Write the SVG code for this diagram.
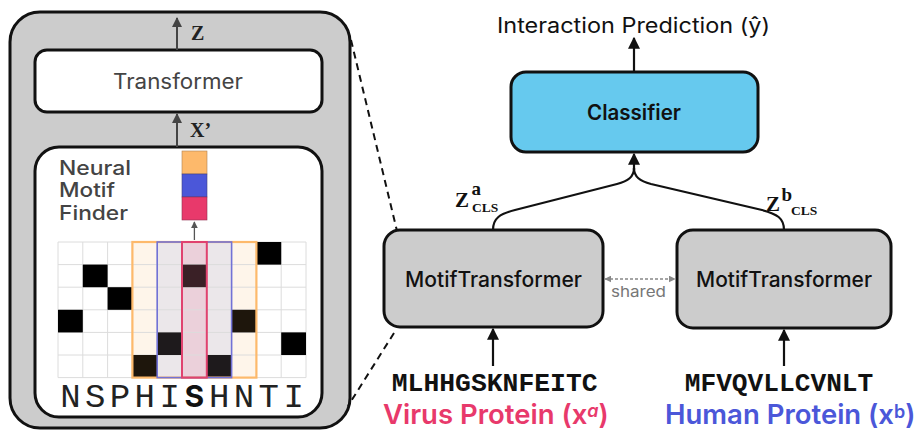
<svg xmlns="http://www.w3.org/2000/svg" width="915" height="430" viewBox="0 0 915 430">
  <style>
    .sans { font-family: Inter, "Liberation Sans", Arial, sans-serif; }
    .serif { font-family: "Liberation Serif", "Times New Roman", serif; font-weight: bold; }
    .mono { font-family: "Liberation Mono", "Courier New", monospace; }
    .box { stroke: #111; stroke-width: 3; }
    .grid line { stroke: #dcdcdc; stroke-width: 1; }
    .dark { stroke: #444; stroke-width: 2; fill: none; }
    .blk { stroke: #111; stroke-width: 2.2; fill: none; }
  </style>
  <defs>
    <marker id="ahGray" viewBox="0 0 10 10" refX="9" refY="5" markerWidth="10" markerHeight="10" markerUnits="userSpaceOnUse" orient="auto">
      <path d="M0,0 L10,5 L0,10 z" fill="#444"/>
    </marker>
    <marker id="ahSmall" viewBox="0 0 10 10" refX="9" refY="5" markerWidth="7" markerHeight="7" markerUnits="userSpaceOnUse" orient="auto">
      <path d="M0,0 L10,5 L0,10 z" fill="#555"/>
    </marker>
    <marker id="ahBlack" viewBox="0 0 10 10" refX="9" refY="5" markerWidth="12" markerHeight="12" markerUnits="userSpaceOnUse" orient="auto">
      <path d="M0,0 L10,5 L0,10 z" fill="#111"/>
    </marker>
    <marker id="ahShared" viewBox="0 0 10 10" refX="9" refY="5" markerWidth="7" markerHeight="7" markerUnits="userSpaceOnUse" orient="auto-start-reverse">
      <path d="M0,0 L10,5 L0,10 z" fill="#888"/>
    </marker>
  </defs>

  <!-- expanded view of one MotifTransformer -->
  <g id="motif-detail">
    <rect x="10" y="12" width="340" height="416" rx="30" fill="#cccccc" class="box" stroke-width="3.5"/>
    <g id="transformer">
      <rect x="35" y="50" width="287" height="62" rx="12" fill="#fff" class="box"/>
      <text x="113" y="89" class="sans" font-size="21" fill="#444" textLength="130" lengthAdjust="spacingAndGlyphs">Transformer</text>
    </g>
    <g id="motif-finder">
      <rect x="35" y="147" width="287" height="270" rx="24" fill="#fff" class="box"/>
      <text class="sans" font-size="20" font-weight="500" fill="#444">
        <tspan x="59" y="175" textLength="72" lengthAdjust="spacingAndGlyphs">Neural</tspan>
        <tspan x="59" y="197" textLength="56" lengthAdjust="spacingAndGlyphs">Motif</tspan>
        <tspan x="59" y="220" textLength="69" lengthAdjust="spacingAndGlyphs">Finder</tspan>
      </text>
      <rect x="182" y="151" width="25" height="23" fill="#FDB96B" stroke="#b08050" stroke-width="0.6"/>
      <rect x="182" y="174" width="25" height="23" fill="#4B57D9" stroke="#404080" stroke-width="0.6"/>
      <rect x="182" y="197" width="25" height="23" fill="#E8396B" stroke="#903050" stroke-width="0.6"/>

      <!-- convolution windows -->
      <rect x="132.4" y="242" width="124" height="135.6" fill="#FEF5EA"/>
      <rect x="157.2" y="242" width="74.4" height="135.6" fill="#EBE7EA"/>
      <rect x="182" y="242" width="24.8" height="135.6" fill="#EBD0DA"/>

      <!-- one-hot grid -->
      <g class="grid">
        <line x1="58" y1="242" x2="306" y2="242"/>
        <line x1="58" y1="264.6" x2="306" y2="264.6"/>
        <line x1="58" y1="287.2" x2="306" y2="287.2"/>
        <line x1="58" y1="309.8" x2="306" y2="309.8"/>
        <line x1="58" y1="332.4" x2="306" y2="332.4"/>
        <line x1="58" y1="355" x2="306" y2="355"/>
        <line x1="58" y1="377.6" x2="306" y2="377.6"/>
        <line x1="58" y1="242" x2="58" y2="377.6"/>
        <line x1="82.8" y1="242" x2="82.8" y2="377.6"/>
        <line x1="107.6" y1="242" x2="107.6" y2="377.6"/>
        <line x1="132.4" y1="242" x2="132.4" y2="377.6"/>
        <line x1="157.2" y1="242" x2="157.2" y2="377.6"/>
        <line x1="182" y1="242" x2="182" y2="377.6"/>
        <line x1="206.8" y1="242" x2="206.8" y2="377.6"/>
        <line x1="231.6" y1="242" x2="231.6" y2="377.6"/>
        <line x1="256.4" y1="242" x2="256.4" y2="377.6"/>
        <line x1="281.2" y1="242" x2="281.2" y2="377.6"/>
        <line x1="306" y1="242" x2="306" y2="377.6"/>
      </g>
      <g id="cells">
        <rect x="256.4" y="242" width="24.8" height="22.6" fill="#000"/>
        <rect x="82.8" y="264.6" width="24.8" height="22.6" fill="#000"/>
        <rect x="182" y="264.6" width="24.8" height="22.6" fill="#3a2026"/>
        <rect x="107.6" y="287.2" width="24.8" height="22.6" fill="#000"/>
        <rect x="58" y="309.8" width="24.8" height="22.6" fill="#000"/>
        <rect x="231.6" y="309.8" width="24.8" height="22.6" fill="#1e160c"/>
        <rect x="157.2" y="332.4" width="24.8" height="22.6" fill="#1e1a1c"/>
        <rect x="281.2" y="332.4" width="24.8" height="22.6" fill="#000"/>
        <rect x="132.4" y="355" width="24.8" height="22.6" fill="#1e160c"/>
        <rect x="206.8" y="355" width="24.8" height="22.6" fill="#1e1a1c"/>
      </g>
      <rect x="132.4" y="242" width="124" height="135.6" fill="none" stroke="#FDB96B" stroke-width="2.2"/>
      <rect x="157.2" y="242" width="74.4" height="135.6" fill="none" stroke="#7272D6" stroke-width="1.6"/>
      <rect x="182" y="242" width="24.8" height="135.6" fill="none" stroke="#E0426F" stroke-width="2"/>

      <text class="mono" font-size="34" fill="#222" text-anchor="middle">
        <tspan x="70.4" y="407">N</tspan><tspan x="95.2" y="407">S</tspan><tspan x="120" y="407">P</tspan><tspan x="144.8" y="407">H</tspan><tspan x="169.6" y="407">I</tspan><tspan x="194.4" y="407" class="sans" font-weight="bold" font-size="30" fill="#111">S</tspan><tspan x="219.2" y="407">H</tspan><tspan x="244" y="407">N</tspan><tspan x="268.8" y="407">T</tspan><tspan x="293.6" y="407">I</tspan>
      </text>
    </g>
    <line x1="194.4" y1="240" x2="194.4" y2="222" stroke="#555" stroke-width="1.3" marker-end="url(#ahSmall)"/>
    <line x1="177" y1="147" x2="177" y2="114" class="dark" marker-end="url(#ahGray)"/>
    <line x1="177" y1="50" x2="177" y2="18" class="dark" marker-end="url(#ahGray)"/>
    <text x="191" y="40" class="serif" font-size="20" fill="#222">Z</text>
    <text x="190" y="137" class="serif" font-size="20" fill="#222">X’</text>
  </g>

  <!-- zoom guides -->
  <g id="zoom-guides" stroke="#111" stroke-width="2" stroke-dasharray="7,5" fill="none">
    <line x1="351" y1="40" x2="397" y2="231"/>
    <line x1="394" y1="333" x2="348" y2="406"/>
  </g>

  <g id="classifier">
    <rect x="511" y="72" width="247" height="80" rx="15" fill="#66C9EE" class="box"/>
    <text x="587" y="120" class="sans" font-size="21" font-weight="600" fill="#111" textLength="94" lengthAdjust="spacingAndGlyphs">Classifier</text>
  </g>

  <g id="motif-transformer-a">
    <rect x="384" y="230" width="219" height="97" rx="16" fill="#cccccc" class="box"/>
    <text x="405" y="287" class="sans" font-size="21" font-weight="500" fill="#111" textLength="177" lengthAdjust="spacingAndGlyphs">MotifTransformer</text>
  </g>

  <g id="motif-transformer-b">
    <rect x="677" y="230" width="214" height="98" rx="16" fill="#cccccc" class="box"/>
    <text x="696" y="287" class="sans" font-size="21" font-weight="500" fill="#111" textLength="176" lengthAdjust="spacingAndGlyphs">MotifTransformer</text>
  </g>

  <g id="connectors">
    <line x1="634" y1="72" x2="634" y2="38" class="blk" marker-end="url(#ahBlack)"/>
    <path d="M493,230 C493,218 500,214 515,210 L617,184 C628,181 634,177 634,168" class="blk"/>
    <path d="M784,230 C784,218 777,214 762,210 L651,184 C640,181 634,177 634,168" class="blk"/>
    <line x1="634" y1="170" x2="634" y2="154" class="blk" marker-end="url(#ahBlack)"/>
    <line x1="493" y1="366" x2="493" y2="329" class="blk" marker-end="url(#ahBlack)"/>
    <line x1="784" y1="366" x2="784" y2="330" class="blk" marker-end="url(#ahBlack)"/>
    <line x1="605" y1="279" x2="675" y2="279" stroke="#888" stroke-width="1.5" stroke-dasharray="3,2" marker-start="url(#ahShared)" marker-end="url(#ahShared)"/>
  </g>

  <!-- labels -->
  <text x="497" y="33" class="sans" font-size="21" fill="#111" textLength="273" lengthAdjust="spacingAndGlyphs">Interaction Prediction (ŷ)</text>
  <text x="611" y="297" class="sans" font-size="15" fill="#777" textLength="55" lengthAdjust="spacingAndGlyphs">shared</text>

  <text class="serif" fill="#111">
    <tspan x="455" y="207" font-size="21">Z</tspan><tspan x="471.5" y="195" font-size="19">a</tspan><tspan x="472" y="212" font-size="13.5">CLS</tspan>
  </text>
  <text class="serif" fill="#111">
    <tspan x="766" y="211" font-size="21">Z</tspan><tspan x="781.5" y="201" font-size="19">b</tspan><tspan x="791" y="215" font-size="13.5">CLS</tspan>
  </text>

  <text x="494.7" y="391" text-anchor="middle" class="mono" font-size="26.4" font-weight="bold" fill="#111">MLHHGSKNFEITC</text>
  <text x="779" y="391" text-anchor="middle" class="mono" font-size="26.2" font-weight="bold" fill="#111">MFVQVLLCVNLT</text>

  <text x="383" y="424" class="sans" font-size="27.5" font-weight="600" fill="#E8396B">Virus Protein (x<tspan font-size="18" dy="-7" font-style="italic">a</tspan><tspan dy="7">)</tspan></text>
  <text x="665" y="424" class="sans" font-size="27.5" font-weight="600" fill="#4B57D9">Human Protein (x<tspan font-size="18" dy="-6">b</tspan><tspan dy="6">)</tspan></text>
</svg>
